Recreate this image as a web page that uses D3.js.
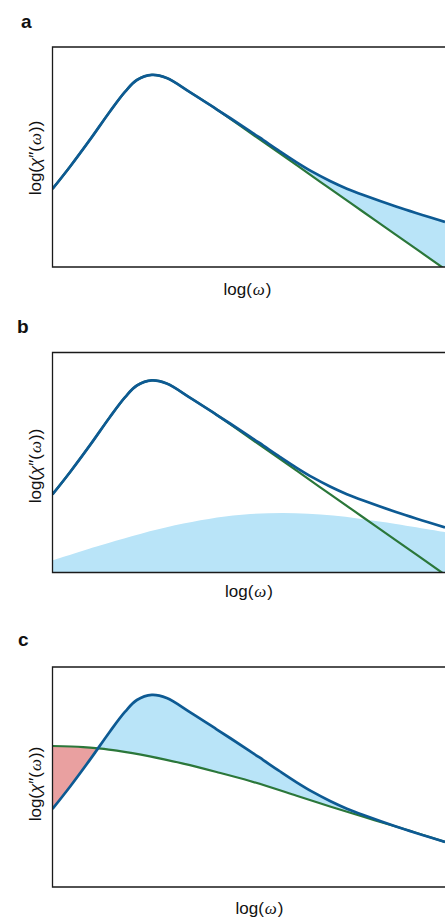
<!DOCTYPE html>
<html>
<head>
<meta charset="utf-8">
<script src="https://cdn.jsdelivr.net/npm/d3@7"></script>
<style>
  body { margin: 0; background: #fff; }
  svg text { font-family: 'Liberation Sans', Arial, sans-serif; fill: #111; }
</style>
</head>
<body>
<div id="chart-area"></div>
<script>
// log(omega) positions and log(chi'') values (arbitrary units 0-10)

// full response (blue), same in all three panels
const totalX = [0, 0.45, 0.96, 1.46, 1.85, 2.15, 2.53, 2.91, 3.50, 4.18, 5.03, 5.37, 5.80, 6.22, 6.64, 7.07, 7.50, 7.92, 8.77, 10]
const totalY = [3.55, 4.57, 5.80, 7.06, 7.97, 8.50, 8.73, 8.59, 7.95, 7.17, 6.18, 5.77, 5.25, 4.76, 4.31, 3.91, 3.56, 3.27, 2.74, 2.05]

// single relaxation (green), panels a and b
const debyeX = [0, 0.45, 0.96, 1.46, 1.85, 2.15, 2.53, 2.91, 3.50, 4.18, 5.03, 6.22, 7.07, 7.92, 8.77, 10]
const debyeY = [3.55, 4.57, 5.80, 7.06, 7.97, 8.50, 8.73, 8.59, 7.95, 7.17, 6.11, 4.63, 3.56, 2.50, 1.44, -0.1]

// broad background contribution (filled), panel b
const broadX = [0, 1.21, 2.91, 4.60, 5.87, 7.15, 8.42, 10]
const broadY = [0.55, 1.23, 2.06, 2.59, 2.70, 2.59, 2.29, 1.83]

// broad reference curve (green), panel c
const wideX = [0, 0.78, 1.17, 1.64, 2.48, 3.33, 4.18, 5.03, 6.22, 7.07, 7.92, 8.77, 10]
const wideY = [6.41, 6.36, 6.30, 6.20, 5.94, 5.61, 5.23, 4.82, 4.15, 3.66, 3.19, 2.74, 2.05]

const zip = (xs, ys) => xs.map((v, i) => ({ x: v, y: ys[i] }))
const total = zip(totalX, totalY)
const debye = zip(debyeX, debyeY)
const broad = zip(broadX, broadY)
const wide = zip(wideX, wideY)

const blue = '#0d5a93'
const green = '#2b773a'
const lightBlue = '#b9e4f8'
const pink = '#e9a0a0'

const width = 445
const height = 919
const left = 52.5
const plotWidth = 392.5
const plotHeight = 220

const svg = d3.select('#chart-area')
  .append('svg')
    .attr('width', width)
    .attr('height', height)

const x = d3.scaleLinear().domain([0, 10]).range([0, plotWidth])
const y = d3.scaleLinear().domain([0, 10]).range([plotHeight, 0])
const curve = d3.curveCatmullRom.alpha(0.5)

const line = d3.line()
  .x(d => x(d.x))
  .y(d => y(d.y))
  .curve(curve)

const areaBelow = d3.area()
  .x(d => x(d.x))
  .y0(plotHeight + 5)
  .y1(d => y(d.y))
  .curve(curve)

const areaAbove = d3.area()
  .x(d => x(d.x))
  .y0(-5)
  .y1(d => y(d.y))
  .curve(curve)

const panels = [
  { id: 'a', top: 47, letter: [21, 28], xLabel: [247.5, 295], yLabel: 158,
    fills: [{ under: total, over: debye, color: lightBlue }],
    lower: debye },
  { id: 'b', top: 352.5, letter: [17, 333], xLabel: [249, 597], yLabel: 466,
    fills: [{ under: broad, over: null, color: lightBlue }],
    lower: debye },
  { id: 'c', top: 667, letter: [18, 646], xLabel: [259.5, 914], yLabel: 784,
    fills: [{ under: total, over: wide, color: lightBlue }, { under: wide, over: total, color: pink }],
    lower: wide }
]

const defs = svg.append('defs')

panels.forEach(p => {
  const g = svg.append('g')
    .attr('transform', `translate(${left}, ${p.top})`)

  defs.append('clipPath')
    .attr('id', `plot-${p.id}`)
    .append('rect')
      .attr('width', plotWidth + 20)
      .attr('height', plotHeight)

  const plot = g.append('g')
    .attr('clip-path', `url(#plot-${p.id})`)

  p.fills.forEach((f, i) => {
    const path = plot.append('path')
      .attr('d', areaBelow(f.under))
      .attr('fill', f.color)
    if (f.over) {
      defs.append('clipPath')
        .attr('id', `above-${p.id}-${i}`)
        .append('path')
          .attr('d', areaAbove(f.over))
      path.attr('clip-path', `url(#above-${p.id}-${i})`)
    }
  })

  plot.append('path')
    .attr('d', line(p.lower))
    .attr('fill', 'none')
    .attr('stroke', green)
    .attr('stroke-width', 2.2)

  plot.append('path')
    .attr('d', line(total))
    .attr('fill', 'none')
    .attr('stroke', blue)
    .attr('stroke-width', 2.7)

  // frame: right side runs off the page
  g.append('path')
    .attr('d', `M${plotWidth + 20},0H0V${plotHeight}H${plotWidth + 20}`)
    .attr('fill', 'none')
    .attr('stroke', '#1a1a1a')
    .attr('stroke-width', 1.3)

  svg.append('text')
    .attr('x', p.letter[0])
    .attr('y', p.letter[1])
    .attr('font-size', 19)
    .attr('font-weight', 'bold')
    .text(p.id)

  const xl = svg.append('text')
    .attr('x', p.xLabel[0])
    .attr('y', p.xLabel[1])
    .attr('text-anchor', 'middle')
    .attr('font-size', 17)
  xl.append('tspan').text('log(')
  xl.append('tspan').attr('font-family', 'Liberation Serif').attr('font-style', 'italic').attr('dx', 1).text('ω')
  xl.append('tspan').attr('dx', 1).text(')')

  const yl = svg.append('text')
    .attr('transform', 'rotate(-90)')
    .attr('x', -p.yLabel)
    .attr('y', 41)
    .attr('text-anchor', 'middle')
    .attr('font-size', 17)
  yl.append('tspan').text('log(')
  yl.append('tspan').attr('font-style', 'italic').text('χ')
  yl.append('tspan').text('″(')
  yl.append('tspan').attr('font-family', 'Liberation Serif').attr('font-style', 'italic').attr('dx', 1).text('ω')
  yl.append('tspan').attr('dx', 1).text('))')
})
</script>
</body>
</html>
